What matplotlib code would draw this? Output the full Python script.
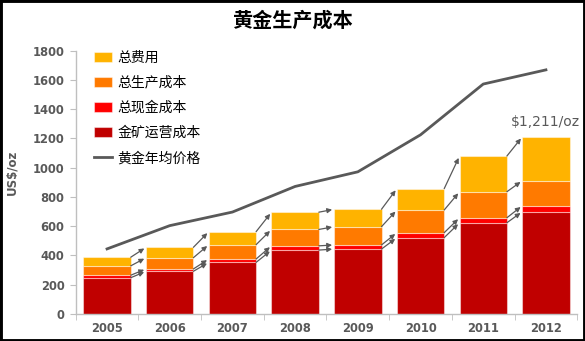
import numpy as np
import matplotlib
matplotlib.use("Agg")
import matplotlib.pyplot as plt
from matplotlib.patches import Rectangle

plt.rcParams['font.family'] = ['Noto Sans CJK SC', 'DejaVu Sans']

years = ['2005', '2006', '2007', '2008', '2009', '2010', '2011', '2012']
# cumulative cost levels, US$/oz (each level includes the ones below it)
mining_cost = [248, 292, 353, 437, 444, 522, 624, 699]
cash_cost = [265, 308, 376, 466, 472, 556, 658, 740]
production_cost = [329, 385, 474, 578, 597, 711, 836, 911]
total_cost = [388, 456, 563, 696, 716, 857, 1080, 1211]
gold_price = [445, 604, 697, 872, 972, 1225, 1572, 1669]

labels = ['金矿运营成本', '总现金成本', '总生产成本', '总费用']
colors = ['#C00000', '#FF0000', '#FF7A00', '#FFB300']
grey = '#595959'

fig = plt.figure(figsize=(5.85, 3.41), dpi=100)
ax = fig.add_axes([0.1294, 0.0792, 0.8574, 0.7721])

x = np.arange(len(years))
w = 0.755
levels = [mining_cost, cash_cost, production_cost, total_cost]
bottom = np.zeros(len(years))
bars = []
for lev, col, lab in zip(levels, colors, labels):
    lev = np.array(lev, dtype=float)
    b = ax.bar(x, lev - bottom, w, bottom=bottom, color=col, label=lab,
               edgecolor=(1, 1, 1, 0.45), linewidth=0.8, zorder=2)
    bars.append(b)
    bottom = lev

# arrows linking each level to the next year's bar
for lev in levels:
    for i in range(len(years) - 1):
        ax.annotate('', xy=(x[i + 1] - w / 2, lev[i + 1]),
                    xytext=(x[i] + w / 2, lev[i]),
                    arrowprops=dict(arrowstyle='-|>', color=grey, lw=0.9,
                                    mutation_scale=7, shrinkA=0, shrinkB=1.5),
                    zorder=3)

line, = ax.plot(x, gold_price, color=grey, lw=2, label='黄金年均价格', zorder=3)

ax.text(x[-1], total_cost[-1] + 55, f'${total_cost[-1]:,}/oz',
        ha='center', va='bottom', fontsize=10, color=grey, family='DejaVu Sans')

ax.set_xlim(-0.5, len(years) - 0.5)
ax.set_ylim(0, 1800)
ax.set_yticks(np.arange(0, 1801, 200))
ax.set_xticks(x)
ax.set_xticklabels(years)
ax.set_xticks(np.arange(-0.5, len(years)), minor=True)
ax.tick_params(axis='x', which='major', length=0, pad=6)
ax.tick_params(axis='x', which='minor', length=4, color='#BFBFBF', direction='out')
ax.tick_params(axis='y', length=4, color='#BFBFBF', direction='out', pad=4)
for t in ax.get_xticklabels() + ax.get_yticklabels():
    t.set_fontfamily('DejaVu Sans')
    t.set_fontweight('bold')
    t.set_fontsize(8.3)
    t.set_color(grey)

for s in ['top', 'right']:
    ax.spines[s].set_visible(False)
for s in ['left', 'bottom']:
    ax.spines[s].set_color('#BFBFBF')
    ax.spines[s].set_linewidth(1)

handles = [bars[3], bars[2], bars[1], bars[0], line]
names = ['总费用', '总生产成本', '总现金成本', '金矿运营成本', '黄金年均价格']
ax.legend(handles, names, loc='upper left', bbox_to_anchor=(0.036, 1.0),
          frameon=False, fontsize=10, borderpad=0, borderaxespad=0,
          handlelength=1.3, handleheight=0.75, handletextpad=0.4,
          labelspacing=0.8)

fig.text(0.5, 1 - 20 / 341, '黄金生产成本', ha='center', va='center',
         fontsize=14.5, fontweight='bold')
fig.text(12 / 585, 1 - 172 / 341, 'US$/oz', rotation=90, ha='center',
         va='center', fontsize=8.5, fontweight='bold', color=grey,
         family='DejaVu Sans')

# black frame around the whole figure
fig.add_artist(Rectangle((0, 0), 1, 1, transform=fig.transFigure, fill=False,
                         edgecolor='black', linewidth=3.5))

fig.savefig('out.png', dpi=100)
